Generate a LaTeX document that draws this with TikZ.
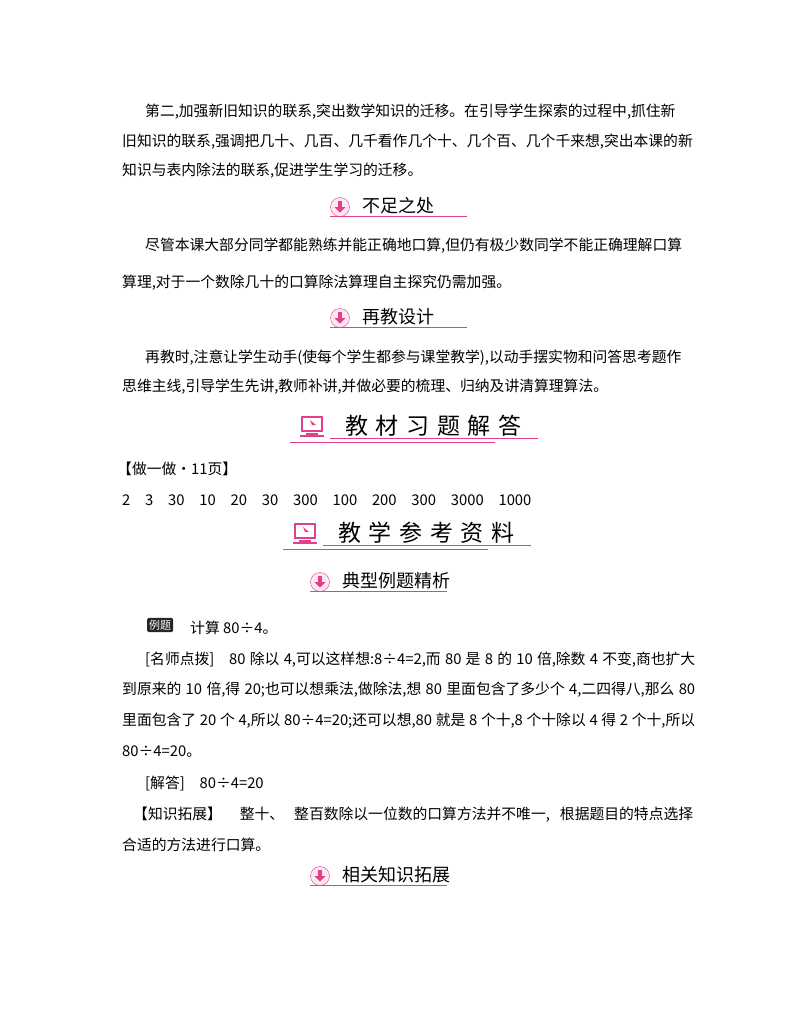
\documentclass[tikz,border=0pt]{standalone}
\usepackage{fontspec}
\setmainfont{Noto Sans CJK SC}
\XeTeXlinebreaklocale "zh"
\XeTeXlinebreakskip=0pt plus 2pt
\definecolor{pk}{HTML}{E2408A}
\newcommand{\fl}[1]{\makebox[573bp][s]{#1}}
\newcommand{\fli}[1]{\makebox[550bp][s]{#1}}
\begin{document}
\begin{tikzpicture}[x=1bp,y=-1bp,
  tx/.style={anchor=west,inner sep=0,font=\fontsize{14.8bp}{16bp}\selectfont},
  hd/.style={anchor=west,inner sep=0,font=\fontsize{18bp}{20bp}\selectfont},
  bh/.style={anchor=west,inner sep=0,font=\fontsize{23bp}{25bp}\selectfont}]
\useasboundingbox[fill=white] (0,0) rectangle (800,1028);
\usetikzlibrary{calc}
\newcommand{\sechd}[4]{%
  \node[circle,draw=pk,fill=pk!12,minimum size=19bp,inner sep=0] (#1c) at (#2,#3) {};
  \fill[pk] ($(#1c)+(-2.2,-6.5)$) rectangle ($(#1c)+(2.2,0)$);
  \fill[pk] ($(#1c)+(-5.5,0)$) -- ($(#1c)+(5.5,0)$) -- ($(#1c)+(0,5.5)$) -- cycle;
  \node[hd] (#1t) at (#2+22,#3-1) {#4};
  \draw[pk,thick] (#2-10,#3+9.5) -- (#2+127,#3+9.5);}
\newcommand{\bighd}[4]{%
  \node[draw=pk,fill=white,line width=2.5bp,minimum width=20bp,minimum height=14bp,inner sep=0] (#1i) at (#2,#3-2) {};
  \fill[pk] (#2-6,#3+7) rectangle (#2+6,#3+9);
  \fill[pk] (#2-12,#3+9) rectangle (#2+12,#3+11);
  \fill[pk] (#2-2,#3-6) -- (#2+4,#3-1) -- (#2,#3-1) -- cycle;
  \node[bh] (#1t) at (#2+33,#3) {#4};
  \draw[pk] (#2+18,#3+12) -- (#2+226,#3+12);
  \draw[pk] (#2-22,#3+16) -- (#2+183,#3+16);}
\node[tx] (l1) at (145,112) {\fli{第二,加强新旧知识的联系,突出数学知识的迁移。在引导学生探索的过程中,抓住新}};
\node[tx] (l2) at (122,142) {\fl{旧知识的联系,强调把几十、几百、几千看作几个十、几个百、几个千来想,突出本课的新}};
\node[tx] (l3) at (122,171) {知识与表内除法的联系,促进学生学习的迁移。};
\sechd{h1}{340}{207}{不足之处}
\node[tx] (l4) at (145,246) {\makebox[552bp][s]{尽管本课大部分同学都能熟练并能正确地口算,但仍有极少数同学不能正确理解口算}};
\node[tx] (l5) at (122,283) {算理,对于一个数除几十的口算除法算理自主探究仍需加强。};
\sechd{h2}{340}{318}{再教设计}
\node[tx] (l6) at (145,358) {\fli{再教时,注意让学生动手(使每个学生都参与课堂教学),以动手摆实物和问答思考题作}};
\node[tx] (l7) at (122,387) {思维主线,引导学生先讲,教师补讲,并做必要的梳理、归纳及讲清算理算法。};
\bighd{b1}{312}{426}{教\,\,材\,\,习\,\,题\,\,解\,\,答}
\node[tx] (l8) at (117,469) {【做一做·11页】};
\node[tx] (l9) at (122,500) {2\quad 3\quad 30\quad 10\quad 20\quad 30\quad 300\quad 100\quad 200\quad 300\quad 3000\quad 1000};
\bighd{b2}{305}{533}{教\,\,学\,\,参\,\,考\,\,资\,\,料}
\sechd{h3}{320}{582}{典型例题精析}
\node[fill=black!85,text=white,rounded corners=1.5bp,inner sep=2bp,anchor=west,font=\fontsize{11bp}{12bp}\selectfont] (lt) at (147,625) {例题};
\node[tx] (l10) at (190,628) {计算 80÷4。};
\node[tx] (l11) at (145,660) {\fli{[名师点拨]\quad 80 除以 4,可以这样想:8÷4=2,而 80 是 8 的 10 倍,除数 4 不变,商也扩大}};
\node[tx] (l12) at (122,690) {\fl{到原来的 10 倍,得 20;也可以想乘法,做除法,想 80 里面包含了多少个 4,二四得八,那么 80}};
\node[tx] (l13) at (122,721) {\fl{里面包含了 20 个 4,所以 80÷4=20;还可以想,80 就是 8 个十,8 个十除以 4 得 2 个十,所以}};
\node[tx] (l14) at (122,752) {80÷4=20。};
\node[tx] (l15) at (145,784) {[解答]\quad 80÷4=20};
\node[tx] (l16) at (133,815) {\makebox[560bp]{【知识拓展】\quad\hspace{3bp}整十、\hfill{}整百数除以一位数的口算方法并不唯一,\hfill{}根据题目的特点选择}};
\node[tx] (l17) at (122,845) {合适的方法进行口算。};
\sechd{h4}{320}{876}{相关知识拓展}
\end{tikzpicture}
\end{document}
